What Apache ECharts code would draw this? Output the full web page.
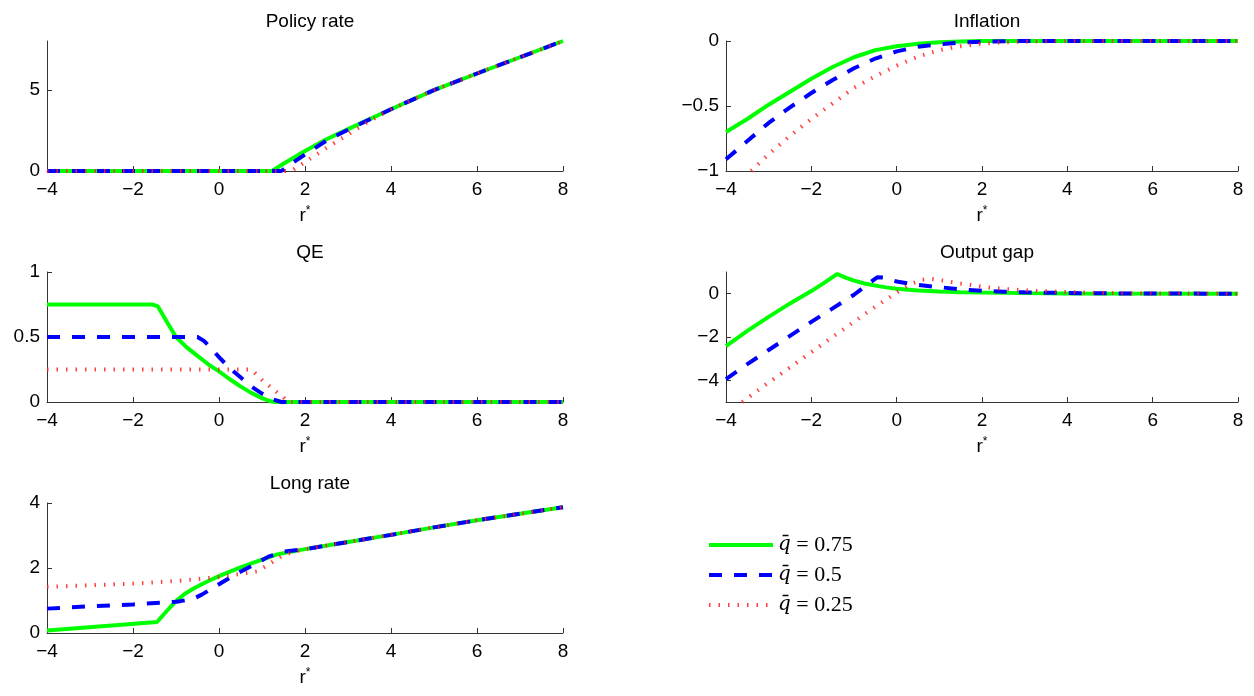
<!DOCTYPE html>
<html>
<head>
<meta charset="utf-8">
<title>Policy responses across r*</title>
<script src="https://cdn.jsdelivr.net/npm/echarts@6.0.0/dist/echarts.min.js"></script>
<style>
  html, body { margin: 0; padding: 0; background: #fff; }
  #chart { width: 1254px; height: 696px; }
</style>
</head>
<body>
<div id="chart"></div>
<script>
// Series names (one per QE cap)
const seriesNames = ['q\u0304 = 0.75', 'q\u0304 = 0.5', 'q\u0304 = 0.25'];

// Panel titles
const panelTitles = ['Policy rate', 'Inflation', 'QE', 'Output gap', 'Long rate'];

// Tick values
const xTicks = [-4, -2, 0, 2, 4, 6, 8];
const policyTicks = [0, 5];
const inflationTicks = [-1, -0.5, 0];
const qeTicks = [0, 0.5, 1];
const outputTicks = [-4, -2, 0];
const longTicks = [0, 2, 4];

// Policy rate: [r*, value]
const policyHigh = [[-4,0],[1.23,0],[1.5,0.45],[2,1.23],[2.5,1.95],[3,2.58],[4,3.8],[5,4.98],[6,6.0],[7,7.0],[8,8]];
const policyMid  = [[-4,0],[1.45,0],[1.6,0.3],[2,1.02],[2.5,1.87],[3,2.54],[4,3.8],[5,4.98],[6,6.0],[7,7.0],[8,8]];
const policyLow  = [[-4,0],[1.68,0],[2,0.55],[2.5,1.42],[3,2.25],[3.5,3.08],[4,3.8],[5,4.98],[6,6.0],[7,7.0],[8,8]];

// Inflation
const inflationHigh = [[-4,-0.70],[-3.5,-0.60],[-3,-0.49],[-2.5,-0.39],[-2,-0.29],[-1.5,-0.20],[-1,-0.125],[-0.5,-0.07],[0,-0.04],[0.5,-0.022],[1,-0.01],[1.5,-0.004],[2,0],[8,0]];
const inflationMid  = [[-4,-0.91],[-3.5,-0.77],[-3,-0.63],[-2.5,-0.51],[-2,-0.40],[-1.5,-0.30],[-1,-0.21],[-0.5,-0.135],[0,-0.08],[0.5,-0.045],[1,-0.025],[1.5,-0.012],[2,-0.005],[3,0],[8,0]];
const inflationLow  = [[-3.41,-1.0],[-3,-0.87],[-2.5,-0.73],[-2,-0.6],[-1.5,-0.48],[-1,-0.36],[-0.5,-0.27],[0,-0.19],[0.5,-0.12],[1,-0.07],[1.5,-0.04],[2,-0.02],[2.5,-0.01],[3,-0.004],[4,0],[8,0]];

// QE
const qeHigh = [[-4,0.75],[-1.55,0.75],[-1.42,0.735],[-1.2,0.61],[-1,0.50],[-0.75,0.42],[-0.5,0.355],[-0.25,0.29],[0,0.235],[0.25,0.175],[0.5,0.12],[0.75,0.07],[1,0.03],[1.2,0.005],[1.3,0],[8,0]];
const qeMid  = [[-4,0.5],[-0.5,0.5],[-0.35,0.47],[-0.2,0.42],[0,0.345],[0.25,0.26],[0.5,0.19],[0.75,0.12],[1,0.065],[1.25,0.02],[1.45,0],[8,0]];
const qeLow  = [[-4,0.25],[0.75,0.25],[1,0.17],[1.25,0.1],[1.5,0.035],[1.6,0],[8,0]];

// Output gap
const outputHigh = [[-4,-2.42],[-3.5,-1.72],[-3,-1.07],[-2.5,-0.45],[-2,0.12],[-1.7,0.5],[-1.39,0.91],[-1.2,0.74],[-1,0.6],[-0.75,0.47],[-0.5,0.37],[-0.25,0.29],[0,0.23],[0.5,0.15],[1,0.1],[1.5,0.07],[2,0.05],[3,0.025],[4,0.01],[8,0]];
const outputMid  = [[-4,-3.94],[-3.5,-3.25],[-3,-2.6],[-2.5,-1.95],[-2,-1.3],[-1.5,-0.68],[-1,-0.05],[-0.7,0.4],[-0.45,0.76],[-0.3,0.74],[0,0.56],[0.5,0.4],[1,0.3],[1.5,0.2],[2,0.13],[2.5,0.09],[3,0.06],[4,0.03],[5,0.015],[6,0.005],[8,0]];
const outputLow  = [[-3.62,-5.0],[-3,-4.1],[-2.5,-3.4],[-2,-2.7],[-1.5,-2.0],[-1,-1.3],[-0.5,-0.6],[0,0.05],[0.3,0.42],[0.6,0.64],[0.8,0.68],[1,0.63],[1.5,0.47],[2,0.32],[2.5,0.22],[3,0.15],[4,0.07],[5,0.03],[6,0.01],[8,0]];

// Long rate
const longHigh = [[-4,0.08],[-1.44,0.34],[-1.2,0.7],[-1,0.98],[-0.8,1.2],[-0.6,1.36],[-0.4,1.5],[-0.2,1.63],[0,1.75],[0.5,2.02],[1,2.26],[1.35,2.42],[2,2.58],[3,2.8],[4,3.02],[5,3.25],[6,3.47],[7,3.67],[8,3.87]];
const longMid  = [[-4,0.75],[-3,0.82],[-2,0.88],[-1,0.96],[-0.9,0.98],[-0.6,1.05],[-0.4,1.18],[0,1.5],[0.43,1.84],[0.8,2.09],[1.15,2.35],[1.5,2.5],[2,2.58],[3,2.8],[4,3.02],[5,3.25],[6,3.47],[7,3.67],[8,3.87]];
const longLow  = [[-4,1.42],[-3,1.47],[-2,1.52],[-1,1.6],[0,1.72],[0.3,1.78],[0.6,1.84],[0.9,1.9],[1.2,2.15],[1.5,2.4],[1.8,2.52],[2,2.58],[3,2.8],[4,3.02],[5,3.25],[6,3.47],[7,3.67],[8,3.87]];

// Subplot layout and axis ranges
const panels = [
  { left: 47,  top: 41,  width: 516, height: 130, yMin: 0,  yMax: 8, yTicks: policyTicks,    lines: [policyHigh, policyMid, policyLow] },
  { left: 726, top: 41,  width: 512, height: 130, yMin: -1, yMax: 0, yTicks: inflationTicks, lines: [inflationHigh, inflationMid, inflationLow] },
  { left: 47,  top: 272, width: 516, height: 130, yMin: 0,  yMax: 1, yTicks: qeTicks,        lines: [qeHigh, qeMid, qeLow] },
  { left: 726, top: 272, width: 512, height: 130, yMin: -5, yMax: 1, yTicks: outputTicks,    lines: [outputHigh, outputMid, outputLow] },
  { left: 47,  top: 503, width: 516, height: 130, yMin: 0,  yMax: 4, yTicks: longTicks,      lines: [longHigh, longMid, longLow] }
];

const lineColors = ['#00ff00', '#0000ff', '#ff2020'];
const lineStyles = [
  { color: lineColors[0], width: 4, type: 'solid' },
  { color: lineColors[1], width: 4, type: [13, 12], cap: 'butt' },
  { color: lineColors[2], width: 4, type: [1.5, 8], cap: 'butt', opacity: 0.85 }
];

const FONT = 'Liberation Sans, Arial, sans-serif';
const AXIS_COLOR = '#333333';
const fmt = v => String(v).replace('-', '\u2212');

const grids = [], xAxes = [], yAxes = [], series = [], titles = [];

panels.forEach((p, i) => {
  grids.push({ left: p.left, top: p.top, width: p.width, height: p.height, containLabel: false });
  titles.push({
    text: panelTitles[i],
    left: p.left + p.width / 2,
    top: p.top - 34,
    textAlign: 'center',
    textStyle: { fontFamily: FONT, fontSize: 19, fontWeight: 'normal', color: '#000' }
  });
  xAxes.push({
    type: 'value', gridIndex: i, min: -4, max: 8, interval: 2,
    name: '{r|r}{s|*}', nameLocation: 'middle', nameGap: 34,
    nameTextStyle: {
      rich: {
        r: { fontFamily: FONT, fontSize: 19, color: '#000', lineHeight: 22 },
        s: { fontFamily: FONT, fontSize: 12, color: '#000', verticalAlign: 'top', lineHeight: 22 }
      }
    },
    axisLine: { show: true, onZero: false, lineStyle: { color: AXIS_COLOR, width: 1 } },
    axisTick: { show: true, inside: true, length: 5, customValues: xTicks, lineStyle: { color: AXIS_COLOR } },
    axisLabel: { customValues: xTicks, formatter: fmt, margin: 9, fontFamily: FONT, fontSize: 19, color: '#000' },
    splitLine: { show: false }
  });
  yAxes.push({
    type: 'value', gridIndex: i, min: p.yMin, max: p.yMax,
    axisLine: { show: true, onZero: false, lineStyle: { color: AXIS_COLOR, width: 1 } },
    axisTick: { show: true, inside: true, length: 5, customValues: p.yTicks, lineStyle: { color: AXIS_COLOR } },
    axisLabel: { customValues: p.yTicks, formatter: fmt, margin: 7, fontFamily: FONT, fontSize: 19, color: '#000' },
    splitLine: { show: false }
  });
  p.lines.forEach((d, k) => {
    series.push({
      type: 'line', name: seriesNames[k], xAxisIndex: i, yAxisIndex: i,
      data: d, showSymbol: false, symbol: 'none', clip: true, silent: true,
      itemStyle: { color: lineColors[k] },
      lineStyle: lineStyles[k], z: 2 + k
    });
  });
});

const chart = echarts.init(document.getElementById('chart'), null, { renderer: 'canvas' });
chart.setOption({
  animation: false,
  backgroundColor: '#ffffff',
  title: titles,
  grid: grids,
  xAxis: xAxes,
  yAxis: yAxes,
  series: series,
  legend: {
    data: seriesNames,
    orient: 'vertical',
    left: 707, top: 534,
    padding: 0,
    itemWidth: 64, itemHeight: 16, itemGap: 8,
    itemStyle: { opacity: 0 },
    lineStyle: { width: 'inherit', type: 'inherit', cap: 'butt' },
    formatter: name => {
      const parts = name.split(' = ');
      return '{q|' + parts[0] + '}{e| = ' + parts[1] + '}';
    },
    textStyle: {
      rich: {
        q: { fontFamily: 'DejaVu Serif, Liberation Serif, serif', fontStyle: 'italic', fontSize: 20, color: '#000' },
        e: { fontFamily: 'Liberation Serif, DejaVu Serif, serif', fontSize: 22, color: '#000' }
      }
    }
  }
});
</script>
</body>
</html>
